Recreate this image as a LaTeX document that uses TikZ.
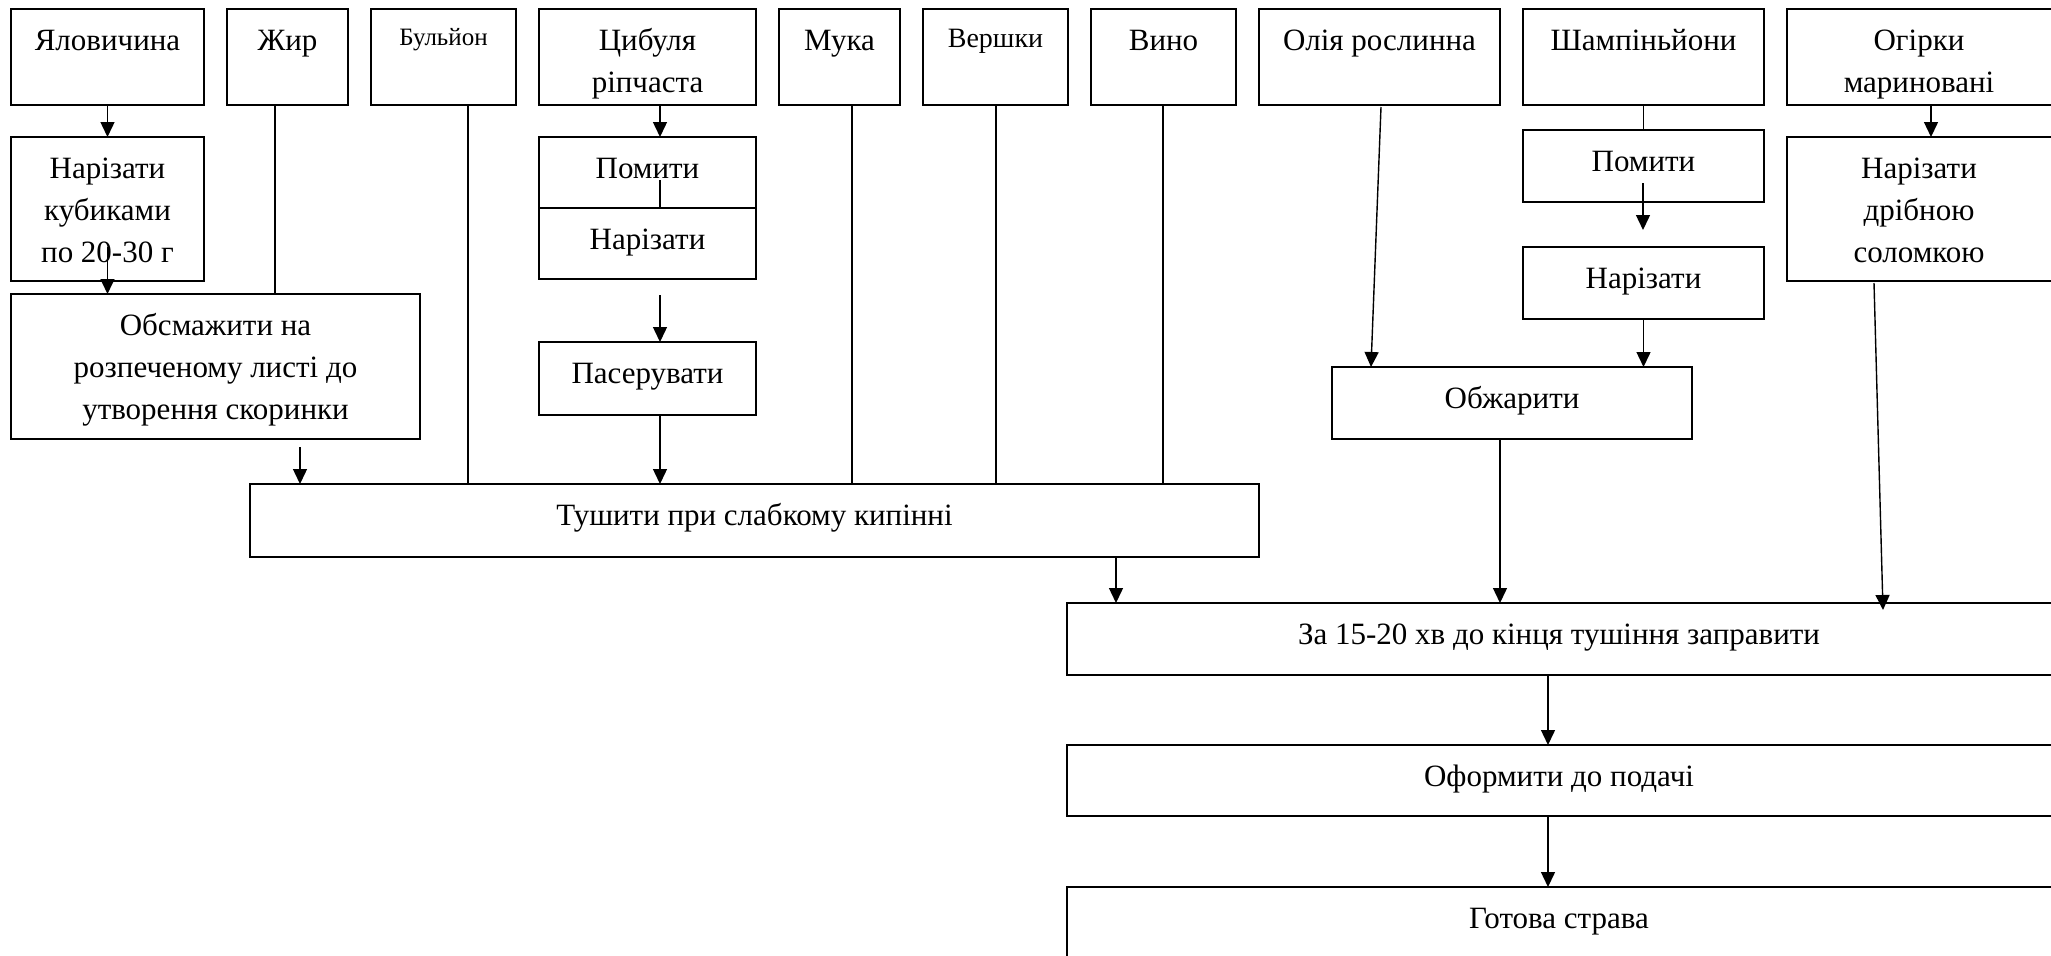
\documentclass[tikz,border=0pt]{standalone}
\usepackage{fontspec}
\setmainfont{Liberation Serif}
\usetikzlibrary{arrows.meta,calc}
\tikzset{
  box/.style={draw, line width=1.1pt, inner sep=0pt, outer sep=0pt, rectangle},
  txt/.style={anchor=north, inner sep=0pt, outer sep=0pt, align=center, font=\fontsize{15.5}{21}\selectfont},
  smalltxt/.style={txt, font=\fontsize{12.5}{17}\selectfont},
  midtxt/.style={txt, font=\fontsize{14}{19}\selectfont},
  conn/.style={line width=0.7pt},
  arr/.style={conn, -{Triangle[length=7.5pt,width=7pt]}},
}
\begin{document}
\begin{tikzpicture}[x=0.5pt,y=-0.5pt]
\useasboundingbox (0,0) rectangle (2051,955);
\clip (0,0) rectangle (2051,955);

% top row
\node[box, minimum width=96.5pt, minimum height=48pt] (ya) at (107.5,57) {};
\node[txt] (yat) at (107.5,20.6) {\strut Яловичина};
\node[box, minimum width=60.5pt, minimum height=48pt] (zhyr) at (287.5,57) {};
\node[txt] (zhyrt) at (287.5,20.6) {\strut Жир};
\node[box, minimum width=72.5pt, minimum height=48pt] (bul) at (443.5,57) {};
\node[smalltxt] (bult) at (443.5,21.2) {\strut Бульйон};
\node[box, minimum width=108.5pt, minimum height=48pt] (cyb) at (647.5,57) {};
\node[txt] (cybt) at (647.5,20.6) {\strut Цибуля\\ріпчаста};
\node[box, minimum width=60.5pt, minimum height=48pt] (muka) at (839.5,57) {};
\node[txt] (mukat) at (839.5,20.6) {\strut Мука};
\node[box, minimum width=72.5pt, minimum height=48pt] (versh) at (995.5,57) {};
\node[midtxt] (versht) at (995.5,20.4) {\strut Вершки};
\node[box, minimum width=72.5pt, minimum height=48pt] (vyno) at (1163.5,57) {};
\node[txt] (vynot) at (1163.5,20.6) {\strut Вино};
\node[box, minimum width=120.5pt, minimum height=48pt] (oliya) at (1379.5,57) {};
\node[txt] (oliyat) at (1379.5,20.6) {\strut Олія рослинна};
\node[box, minimum width=120.5pt, minimum height=48pt] (sham) at (1643.5,57) {};
\node[txt] (shamt) at (1643.5,20.6) {\strut Шампіньйони};
\node[box, minimum width=134.5pt, minimum height=48pt] (ohir) at (1921.5,57) {};
\node[txt] (ohirt) at (1919,20.6) {\strut Огірки\\мариновані};

% left branch
\node[box, minimum width=96.5pt, minimum height=72pt] (nk) at (107.5,209) {};
\node[txt] (nkt) at (107.5,148.6) {\strut Нарізати\\кубиками\\по 20-30 г};
\node[box, minimum width=204.5pt, minimum height=72.5pt] (obs) at (215.5,366.5) {};
\node[txt] (obst) at (215.5,305.6) {\strut Обсмажити на\\розпеченому листі до\\утворення скоринки};

% onion branch
\node[box, minimum width=108.5pt, minimum height=35.5pt] (pom1) at (647.5,172.5) {};
\node[txt] (pom1t) at (647.5,148.6) {\strut Помити};
\node[box, minimum width=108.5pt, minimum height=35.5pt] (nar1) at (647.5,243.5) {};
\node[txt] (nar1t) at (647.5,219.6) {\strut Нарізати};
\node[box, minimum width=108.5pt, minimum height=36.5pt] (pas) at (647.5,378.5) {};
\node[txt] (past) at (647.5,353.6) {\strut Пасерувати};

% stew
\node[box, minimum width=504.5pt, minimum height=36.5pt] (tush) at (754.5,520.5) {};
\node[txt] (tusht) at (754.5,495.6) {\strut Тушити при слабкому кипінні};

% mushroom branch
\node[box, minimum width=120.5pt, minimum height=36pt] (pom2) at (1643.5,166) {};
\node[txt] (pom2t) at (1643.5,141.6) {\strut Помити};
\node[box, minimum width=120.5pt, minimum height=36pt] (nar2) at (1643.5,283) {};
\node[txt] (nar2t) at (1643.5,258.6) {\strut Нарізати};
\node[box, minimum width=180pt, minimum height=36pt] (obzh) at (1512,403) {};
\node[txt] (obzht) at (1512,378.6) {\strut Обжарити};

% pickles
\node[box, minimum width=134.5pt, minimum height=72pt] (nd) at (1921.5,209) {};
\node[txt] (ndt) at (1919,148.6) {\strut Нарізати\\дрібною\\соломкою};

% final
\node[box, minimum width=494.5pt, minimum height=36pt] (za) at (1561.5,639) {};
\node[txt] (zat) at (1559,614.6) {\strut За 15-20 хв до кінця тушіння заправити};
\node[box, minimum width=494.5pt, minimum height=35.5pt] (ofo) at (1561.5,780.5) {};
\node[txt] (ofot) at (1559,756.6) {\strut Оформити до подачі};
\node[box, minimum width=494.5pt, minimum height=41.5pt] (hot) at (1561.5,928.5) {};
\node[txt] (hott) at (1559,898.6) {\strut Готова страва};

% helper coordinates
\coordinate (nkin) at (107.5,247);
\coordinate (zhx) at (275,105);
\coordinate (bulx) at (468,105);
\coordinate (obsx) at (300,447);
\coordinate (cybx) at (660,105);
\coordinate (pomin) at (660,180);
\coordinate (nargap) at (660,295);
\coordinate (mukax) at (852,105);
\coordinate (vershx) at (996,105);
\coordinate (vynox) at (1163,105);
\coordinate (olfrom) at (1381,107);
\coordinate (olto) at (1371,367);
\coordinate (pom2in) at (1643,183);
\coordinate (pom2end) at (1643,230);
\coordinate (ohirx) at (1931,105);
\coordinate (ndfrom) at (1874,283);
\coordinate (ndto) at (1883,610);
\coordinate (tushx) at (1116,557);
\coordinate (obzhx) at (1500,439);
\coordinate (zax) at (1548,675);

% connectors
\draw[arr] (ya.south) -- (nk.north);
\draw[arr] (nkin) -- (nkin |- obs.north);
\draw[conn] (zhx) -- (zhx |- obs.north);
\draw[conn] (bulx) -- (bulx |- tush.north);
\draw[arr] (obsx) -- (obsx |- tush.north);
\draw[arr] (cybx) -- (cybx |- pom1.north);
\draw[conn] (pomin) -- (pomin |- nar1.north);
\draw[arr] (nargap) -- (nargap |- pas.north);
\draw[arr] (cybx |- pas.south) -- (cybx |- tush.north);
\draw[conn] (mukax) -- (mukax |- tush.north);
\draw[conn] (vershx) -- (vershx |- tush.north);
\draw[conn] (vynox) -- (vynox |- tush.north);
\draw[arr] (olfrom) -- (olto);
\draw[conn] (sham.south) -- (pom2.north);
\draw[arr] (pom2in) -- (pom2end);
\draw[arr] (nar2.south) -- (obzh.north -| nar2.south);
\draw[arr] (ohirx) -- (ohirx |- nd.north);
\draw[arr] (ndfrom) -- (ndto);
\draw[arr] (tushx) -- (tushx |- za.north);
\draw[arr] (obzhx) -- (obzhx |- za.north);
\draw[arr] (zax) -- (zax |- ofo.north);
\draw[arr] (zax |- ofo.south) -- (zax |- hot.north);
\end{tikzpicture}
\end{document}
